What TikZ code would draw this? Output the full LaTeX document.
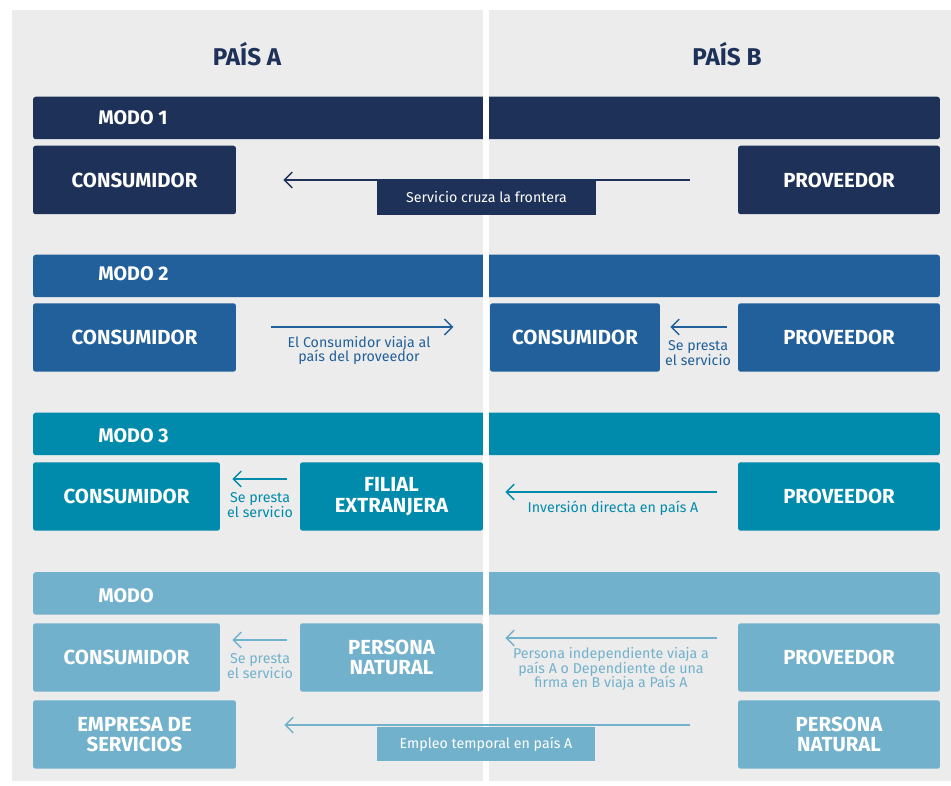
\documentclass[tikz,border=0pt]{standalone}
\usepackage{fontspec}
\setmainfont{Fira Sans}
\usetikzlibrary{arrows.meta,positioning}
\definecolor{modeone}{HTML}{1E3158}
\definecolor{modetwo}{HTML}{21609A}
\definecolor{modethree}{HTML}{008AAB}
\definecolor{modefour}{HTML}{72B1CB}
\definecolor{paper}{HTML}{ECECEC}
\tikzset{box/.style={
            fill=#1,
            text=white,
            rounded corners=1.5pt,
            inner sep=0pt,
            align=center,
            minimum height=1.37cm,
            font=\fontsize{11.6}{11.6}\selectfont\bfseries
        },
        bar/.style={
            fill=#1,
            rounded corners=1.5pt,
            inner sep=0pt,
            minimum width=18.14cm,
            minimum height=0.85cm
        },
        modelabel/.style={
            anchor=west,
            text=white,
            inner sep=0pt,
            font=\fontsize{11.2}{13}\selectfont\bfseries
        },
        tag/.style={
            fill=#1,
            text=white,
            inner sep=0pt,
            minimum width=4.37cm,
            minimum height=0.69cm,
            font=\fontsize{8.1}{9}\selectfont
        },
        note/.style={
            text=#1,
            align=center,
            inner sep=0pt,
            font=\fontsize{8.1}{8.5}\selectfont
        },
        flow/.style={
            draw=#1,
            ->,
            >={Straight Barb[length=4.5pt,width=9pt]},
            line width=0.8pt
        },
        country/.style={
            text=modeone,
            inner sep=0pt,
            font=\fontsize{13.8}{16}\selectfont\bfseries
        }
    }

\begin{document}
\begin{tikzpicture}[x=0.02cm,y=-0.02cm]
        \useasboundingbox (0,0) rectangle (951,786);
        \fill[paper] (12,10) rectangle (951,781);

        \node[country] (paisa) at (247,54) {PAÍS A};
        \node[country] (paisb) at (727,54) {PAÍS B};

        % modo 1
        \node[bar=modeone] (bar1) at (486.5,118) {};
        \node[modelabel] (modo1) at (98,118) {MODO 1};
        \node[box=modeone, minimum width=4.06cm] (cons1) at (134.5,180) {CONSUMIDOR};
        \node[box=modeone, minimum width=4.04cm] (prov1) at (839,180) {PROVEEDOR};

        % modo 2
        \node[bar=modetwo] (bar2) at (486.5,276) {};
        \node[modelabel] (modo2) at (98,274) {MODO 2};
        \node[box=modetwo, minimum width=4.06cm] (cons2) at (134.5,337.5) {CONSUMIDOR};
        \node[box=modetwo, minimum width=3.4cm] (consb2) at (575,337.5) {CONSUMIDOR};
        \node[box=modetwo, minimum width=4.04cm] (prov2) at (839,337.5) {PROVEEDOR};

        % modo 3
        \node[bar=modethree] (bar3) at (486.5,434) {};
        \node[modelabel] (modo3) at (98,436) {MODO 3};
        \node[box=modethree, minimum width=3.74cm] (cons3) at (126.5,496.5) {CONSUMIDOR};
        \node[box=modethree, minimum width=3.66cm] (filial3) at (391.5,496.5) {FILIAL\\EXTRANJERA};
        \node[box=modethree, minimum width=4.04cm] (prov3) at (839,496.5) {PROVEEDOR};

        % modo 4
        \node[bar=modefour] (bar4) at (486.5,593.5) {};
        \node[modelabel] (modo4) at (98,596) {MODO};
        \node[box=modefour, minimum width=3.74cm] (cons4) at (126.5,657.5) {CONSUMIDOR};
        \node[box=modefour, minimum width=3.66cm] (persona4) at (391.5,657.5) {PERSONA\\NATURAL};
        \node[box=modefour, minimum width=4.04cm] (prov4) at (839,657.5) {PROVEEDOR};
        \node[box=modefour, minimum width=4.06cm] (empresa4) at (134.5,734.5) {EMPRESA DE\\SERVICIOS};
        \node[box=modefour, minimum width=4.04cm] (personab4) at (839,734.5) {PERSONA\\NATURAL};

        % frontera
        \draw[white, line width=0.12cm] (486,10) -- (486,786);

        % flechas
        \draw[flow=modeone] ([xshift=-0.96cm]prov1.west |- 0,180) -- ([xshift=0.94cm]cons1.east |- 0,180);
        \node[tag=modeone] (cruza1) at (486.5,197.5) {Servicio cruza la frontera};

        \draw[flow=modetwo] ([xshift=0.7cm]cons2.east |- 0,327) -- ([xshift=4.34cm]cons2.east |- 0,327);
        \node[note=modetwo] (viaja2) at (359,350.5) {El Consumidor viaja al\\país del proveedor};
        \draw[flow=modetwo] ([xshift=-0.22cm]prov2.west |- 0,327) -- ([xshift=0.2cm]consb2.east |- 0,327);
        \node[note=modetwo] (presta2) at (698,353.5) {Se presta\\el servicio};

        \draw[flow=modethree] ([xshift=-0.26cm]filial3.west |- 0,479) -- ([xshift=0.24cm]cons3.east |- 0,479);
        \node[note=modethree] (presta3) at (260,505) {Se presta\\el servicio};
        \draw[flow=modethree] ([xshift=-0.42cm]prov3.west |- 0,492) -- ([xshift=0.44cm]filial3.east |- 0,492);
        \node[note=modethree] (inversion3) at (613,508) {Inversión directa en país A};

        \draw[flow=modefour] ([xshift=-0.26cm]persona4.west |- 0,640) -- ([xshift=0.24cm]cons4.east |- 0,640);
        \node[note=modefour] (presta4) at (260,666) {Se presta\\el servicio};
        \draw[flow=modefour] ([xshift=-0.42cm]prov4.west |- 0,638) -- ([xshift=0.44cm]persona4.east |- 0,638);
        \node[note=modefour] (viaja4) at (611,669) {Persona independiente viaja a\\país A o Dependiente de una\\firma en B viaja a País A};
        \draw[flow=modefour] ([xshift=-0.96cm]personab4.west |- 0,725) -- ([xshift=0.96cm]empresa4.east |- 0,725);
        \node[tag=modefour] (empleo4) at (486,744) {Empleo temporal en país A};

    \end{tikzpicture}
\end{document}
